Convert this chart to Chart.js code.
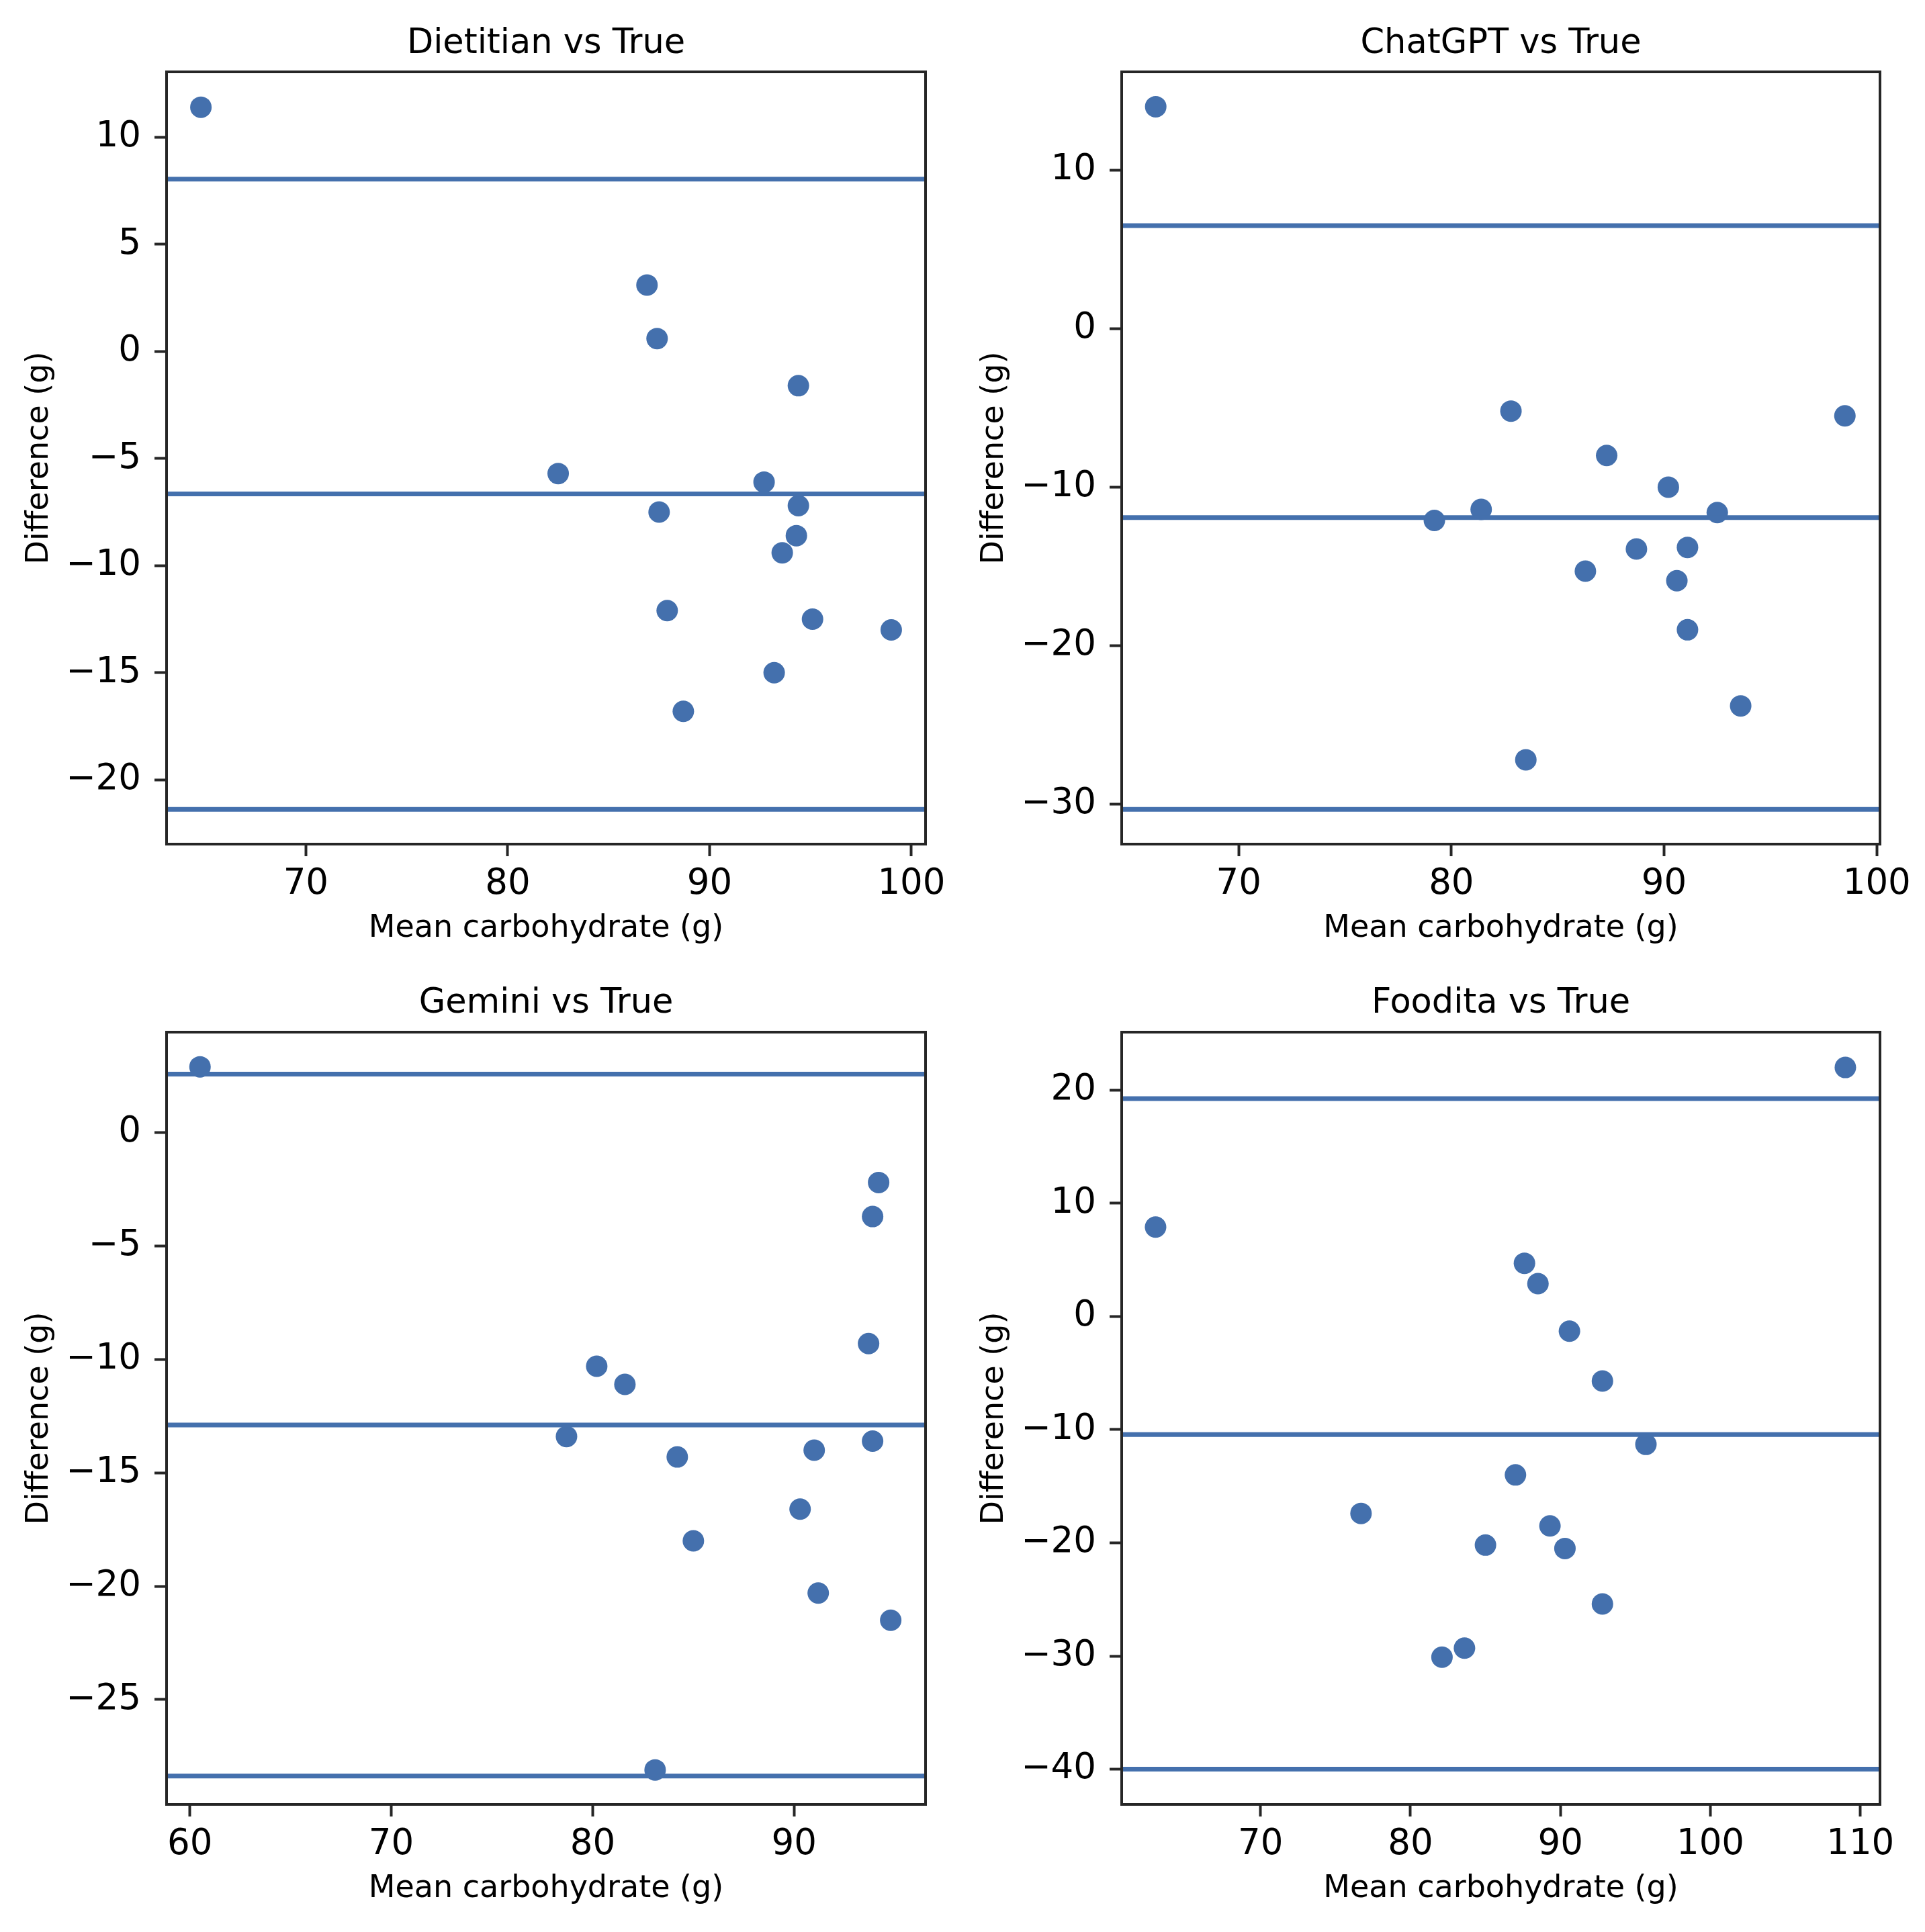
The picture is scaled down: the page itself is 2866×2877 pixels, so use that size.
<!DOCTYPE html>
<html>
<head>
<meta charset="utf-8">
<title>Bland-Altman: carbohydrate estimates vs true</title>
<script src="https://cdn.jsdelivr.net/npm/chart.js@4.4.1/dist/chart.umd.min.js"></script>
<style>
    body { margin: 0; background: #fff; }
    canvas { position: absolute; }
</style>
</head>
<body>
<canvas id="dietitian" width="1433" height="1437" style="left:0;top:0"></canvas>
<canvas id="chatgpt" width="1433" height="1437" style="left:1433px;top:0"></canvas>
<canvas id="gemini" width="1433" height="1440" style="left:0;top:1437px"></canvas>
<canvas id="foodita" width="1433" height="1440" style="left:1433px;top:1437px"></canvas>
<script>
// Dietitian vs True
const dietitianMean = [64.8, 86.9, 87.4, 94.4, 82.5, 92.7, 87.5, 94.4, 94.3, 93.6, 87.9, 95.1, 99.0, 93.2, 88.7];
const dietitianDiff = [11.4, 3.1, 0.6, -1.6, -5.7, -6.1, -7.5, -7.2, -8.6, -9.4, -12.1, -12.5, -13.0, -15.0, -16.8];
const dietitianLimits = [8.04, -6.65, -21.38];
const dietitianXTicks = [70, 80, 90, 100];
const dietitianYTicks = [-20, -15, -10, -5, 0, 5, 10];

// ChatGPT vs True
const chatgptMean = [66.1, 82.8, 98.5, 87.3, 90.2, 81.4, 92.5, 79.2, 91.1, 88.7, 86.3, 90.6, 91.1, 93.6, 83.5];
const chatgptDiff = [14.0, -5.2, -5.5, -8.0, -10.0, -11.4, -11.6, -12.1, -13.8, -13.9, -15.3, -15.9, -19.0, -23.8, -27.2];
const chatgptLimits = [6.5, -11.92, -30.33];
const chatgptXTicks = [70, 80, 90, 100];
const chatgptYTicks = [-30, -20, -10, 0, 10];

// Gemini vs True
const geminiMean = [60.5, 94.2, 93.9, 93.7, 80.2, 81.6, 78.7, 93.9, 91.0, 84.2, 90.3, 85.0, 91.2, 94.8, 83.1];
const geminiDiff = [2.9, -2.2, -3.7, -9.3, -10.3, -11.1, -13.4, -13.6, -14.0, -14.3, -16.6, -18.0, -20.3, -21.5, -28.1];
const geminiLimits = [2.58, -12.89, -28.37];
const geminiXTicks = [60, 70, 80, 90];
const geminiYTicks = [-25, -20, -15, -10, -5, 0];

// Foodita vs True
const fooditaMean = [109.0, 63.0, 87.6, 88.5, 90.6, 92.8, 95.7, 87.0, 76.7, 89.3, 85.0, 90.3, 92.8, 83.6, 82.1];
const fooditaDiff = [22.0, 7.9, 4.7, 2.9, -1.3, -5.7, -11.3, -14.0, -17.4, -18.5, -20.2, -20.5, -25.4, -29.3, -30.1];
const fooditaLimits = [19.24, -10.43, -40.0];
const fooditaXTicks = [70, 80, 90, 100, 110];
const fooditaYTicks = [-40, -30, -20, -10, 0, 10, 20];

const BLUE = '#4470ad';
const INK = '#262626';
const FONT = 'DejaVu Sans';

const panels = [
    { id: 'dietitian', title: 'Dietitian vs True', mean: dietitianMean, diff: dietitianDiff,
      limits: dietitianLimits, xTicks: dietitianXTicks, yTicks: dietitianYTicks,
      xRange: [63.1, 100.7], yRange: [-23.0, 13.05],
      box: { yAxisWidth: 248, right: 55, bottom: 31, titleTop: 35, titleBottom: 10.8 } },
    { id: 'chatgpt', title: 'ChatGPT vs True', mean: chatgptMean, diff: chatgptDiff,
      limits: chatgptLimits, xTicks: chatgptXTicks, yTicks: chatgptYTicks,
      xRange: [64.5, 100.15], yRange: [-32.52, 16.2],
      box: { yAxisWidth: 237, right: 67, bottom: 31, titleTop: 35, titleBottom: 10.8 } },
    { id: 'gemini', title: 'Gemini vs True', mean: geminiMean, diff: geminiDiff,
      limits: geminiLimits, xTicks: geminiXTicks, yTicks: geminiYTicks,
      xRange: [58.84, 96.53], yRange: [-29.62, 4.43],
      box: { yAxisWidth: 248, right: 55, bottom: 41, titleTop: 27.4, titleBottom: 11.4 } },
    { id: 'foodita', title: 'Foodita vs True', mean: fooditaMean, diff: fooditaDiff,
      limits: fooditaLimits, xTicks: fooditaXTicks, yTicks: fooditaYTicks,
      xRange: [60.74, 111.31], yRange: [-43.11, 25.12],
      box: { yAxisWidth: 237, right: 67, bottom: 41, titleTop: 27.4, titleBottom: 11.4 } }
];

// matplotlib style minus sign on negative tick labels
function tickLabel(value) {
    return value < 0 ? '\u2212' + Math.abs(value) : String(value);
}

// draw the full axes frame (all four spines)
const frame = {
    id: 'frame',
    afterDatasetsDraw(chart) {
        const { ctx, chartArea: a } = chart;
        ctx.save();
        ctx.strokeStyle = INK;
        ctx.lineWidth = 4;
        ctx.strokeRect(a.left, a.top, a.right - a.left, a.bottom - a.top);
        ctx.restore();
    }
};

function drawPanel(p) {
    const points = p.mean.map((m, i) => ({ x: m, y: p.diff[i] }));
    const lines = p.limits.map(v => ({
        data: [{ x: p.xRange[0], y: v }, { x: p.xRange[1], y: v }],
        showLine: true,
        borderColor: BLUE,
        borderWidth: 7,
        pointRadius: 0,
        pointHoverRadius: 0
    }));

    const tickGrid = {
        display: true,
        drawOnChartArea: false,
        drawTicks: true,
        tickLength: 18,
        tickWidth: 4,
        tickColor: INK
    };

    new Chart(document.getElementById(p.id), {
        type: 'scatter',
        data: {
            datasets: [
                ...lines,
                {
                    data: points,
                    backgroundColor: BLUE,
                    borderWidth: 0,
                    pointRadius: 16,
                    pointHoverRadius: 16
                }
            ]
        },
        plugins: [frame],
        options: {
            responsive: false,
            animation: false,
            devicePixelRatio: 1,
            layout: { padding: { left: 0, top: 0, right: p.box.right, bottom: p.box.bottom } },
            plugins: {
                legend: { display: false },
                tooltip: { enabled: false },
                title: {
                    display: true,
                    text: p.title,
                    fullSize: false,
                    color: '#000',
                    font: { family: FONT, size: 51, weight: 'normal', lineHeight: 1.2 },
                    padding: { top: p.box.titleTop, bottom: p.box.titleBottom }
                }
            },
            scales: {
                x: {
                    type: 'linear',
                    min: p.xRange[0],
                    max: p.xRange[1],
                    afterBuildTicks: s => { s.ticks = p.xTicks.map(v => ({ value: v })); },
                    afterFit: s => { s.height = 149; },
                    grid: tickGrid,
                    border: { display: false },
                    ticks: {
                        color: '#000',
                        padding: 16,
                        maxRotation: 0,
                        autoSkip: false,
                        font: { family: FONT, size: 53, lineHeight: 1 },
                        callback: tickLabel
                    },
                    title: {
                        display: true,
                        text: 'Mean carbohydrate (g)',
                        color: '#000',
                        font: { family: FONT, size: 46, lineHeight: 1 },
                        padding: { top: 0, bottom: 0 }
                    }
                },
                y: {
                    type: 'linear',
                    min: p.yRange[0],
                    max: p.yRange[1],
                    afterBuildTicks: s => { s.ticks = p.yTicks.map(v => ({ value: v })); },
                    afterFit: s => { s.width = p.box.yAxisWidth; },
                    grid: tickGrid,
                    border: { display: false },
                    ticks: {
                        color: '#000',
                        padding: 20,
                        autoSkip: false,
                        font: { family: FONT, size: 53, lineHeight: 1 },
                        callback: tickLabel
                    },
                    title: {
                        display: true,
                        text: 'Difference (g)',
                        color: '#000',
                        font: { family: FONT, size: 46, lineHeight: 1 },
                        padding: { top: p.box.yAxisWidth - 189 - 23, bottom: 0 }
                    }
                }
            }
        }
    });
}

panels.forEach(drawPanel);
</script>
</body>
</html>
